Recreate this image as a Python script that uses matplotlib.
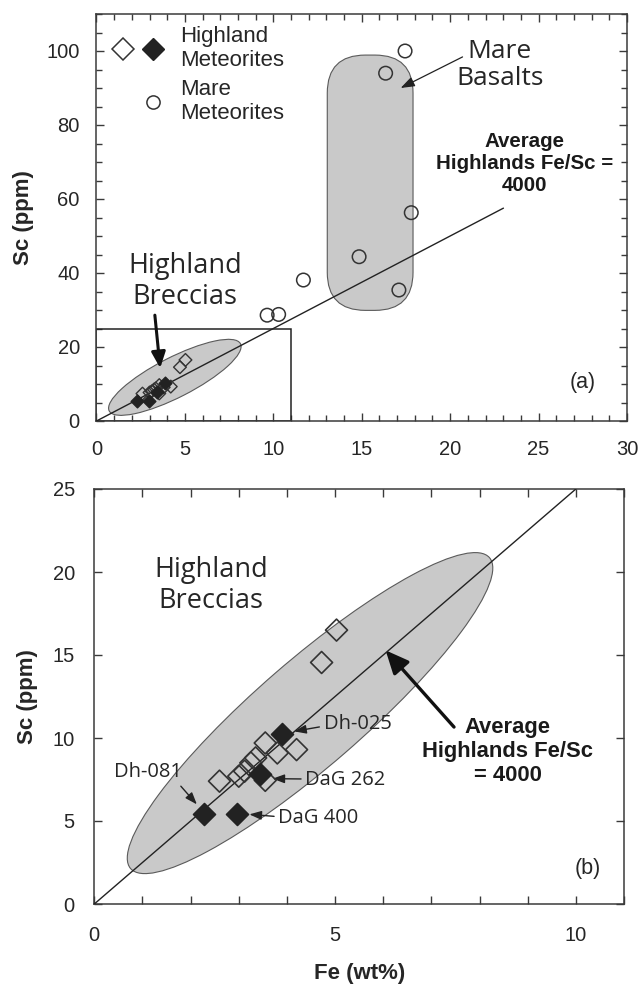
import matplotlib
matplotlib.use("Agg")
import matplotlib.pyplot as plt
import numpy as np
from matplotlib.patches import Ellipse, FancyBboxPatch, Rectangle
from matplotlib.lines import Line2D
from matplotlib.legend_handler import HandlerTuple
from matplotlib.transforms import Affine2D
from matplotlib.ticker import MultipleLocator

# ---------------- data ----------------
# Highland meteorites (open diamonds): Fe (wt%), Sc (ppm)
hl_open_fe = [2.60, 3.00, 3.12, 3.25, 3.35, 3.55, 3.55, 3.80, 4.20, 4.72, 5.03]
hl_open_sc = [7.40, 7.70, 8.00, 8.50, 8.80, 9.70, 7.45, 9.10, 9.30, 14.55, 16.50]
# Named highland meteorites (filled diamonds)
hl_named = ["Dh-081", "DaG 400", "DaG 262", "Dh-025"]
hl_named_fe = [2.28, 2.96, 3.44, 3.90]
hl_named_sc = [5.40, 5.45, 7.83, 10.25]
# Mare meteorites (open circles)
mare_fe = [17.45, 16.35, 17.80, 14.85, 17.10, 11.70, 9.65, 10.30]
mare_sc = [100.0, 94.0, 56.3, 44.4, 35.4, 38.1, 28.6, 28.8]
# Average highlands Fe/Sc ratio
fe_sc_ratio = 4000.0

# axis ranges / ticks
a_xlim, a_ylim = (0, 30), (0, 110)
b_xlim, b_ylim = (0, 11), (0, 25)

FIG_W, FIG_H = 6.39, 9.89
fig = plt.figure(figsize=(FIG_W, FIG_H), dpi=100)
fig.patch.set_facecolor("white")

TICK_FONT = "Liberation Sans"
ANN_FONT = "Open Sans"
TXT = "#262626"
SPINE = "#3a3a3a"
GRAY_FILL = "#c9c9c9"
GRAY_EDGE = "#5a5a5a"

axA = fig.add_axes([96.5 / 639, 1 - 421 / 989, 530.5 / 639, 407 / 989])
axB = fig.add_axes([94.3 / 639, 1 - 904 / 989, 529.7 / 639, 415 / 989])


def aspect_k(ax, xr, yr):
    pos = ax.get_position()
    return (pos.width * FIG_W / (xr[1] - xr[0])) / (pos.height * FIG_H / (yr[1] - yr[0]))


def line_y(x):
    return np.asarray(x) * 1e4 / fe_sc_ratio


def style_axes(ax, xmaj, xmin, ymaj, ymin, xpad, ypad):
    for s in ax.spines.values():
        s.set_color(SPINE)
        s.set_linewidth(1.1)
    ax.xaxis.set_major_locator(MultipleLocator(xmaj))
    ax.xaxis.set_minor_locator(MultipleLocator(xmin))
    ax.yaxis.set_major_locator(MultipleLocator(ymaj))
    ax.yaxis.set_minor_locator(MultipleLocator(ymin))
    ax.tick_params(which="both", direction="in", top=True, right=True,
                   color=SPINE, width=1.0)
    ax.tick_params(which="major", length=6)
    ax.tick_params(which="minor", length=4)
    ax.tick_params(axis="x", which="major", pad=xpad)
    ax.tick_params(axis="y", which="major", pad=ypad)
    for lab in ax.get_xticklabels() + ax.get_yticklabels():
        lab.set_fontfamily(TICK_FONT)
        lab.set_fontsize(14.5)
        lab.set_color(TXT)


# ================= Panel (a) =================
ax = axA
ax.set_xlim(*a_xlim)
ax.set_ylim(*a_ylim)
kA = aspect_k(ax, a_xlim, a_ylim)

# highland breccia field
ellA = Ellipse((4.43, 11.8 / kA), width=2 * 4.17, height=2 * 1.13, angle=27.1,
               facecolor=GRAY_FILL, edgecolor=GRAY_EDGE, linewidth=0.8,
               transform=Affine2D().scale(1, kA) + ax.transData, zorder=1)
ax.add_patch(ellA)
# mare basalt field
capsule = FancyBboxPatch((13.05, 29.9), 17.9 - 13.05, 98.9 - 29.9,
                         boxstyle="round,pad=0,rounding_size=2.15",
                         mutation_aspect=kA, facecolor=GRAY_FILL,
                         edgecolor=GRAY_EDGE, linewidth=0.8, zorder=1)
ax.add_patch(capsule)
# box showing panel (b) limits
ax.add_patch(Rectangle((b_xlim[0], b_ylim[0]), b_xlim[1] - b_xlim[0], b_ylim[1] - b_ylim[0],
                       fill=False, edgecolor="#222222", linewidth=1.1, zorder=2))
# Fe/Sc line
xl = np.array([0, 23.0])
ax.plot(xl, line_y(xl), color="#222222", linewidth=1.0, zorder=3)

ax.scatter(mare_fe, mare_sc, s=95, marker="o", facecolor="none",
           edgecolor="#333333", linewidth=1.1, zorder=4)
ax.scatter(hl_open_fe, hl_open_sc, s=42, marker="D", facecolor="none",
           edgecolor="#333333", linewidth=1.0, zorder=4)
ax.scatter(hl_named_fe, hl_named_sc, s=42, marker="D", facecolor="#222222",
           edgecolor="#222222", linewidth=1.0, zorder=5)

style_axes(ax, 5, 1, 20, 5, xpad=14, ypad=12)
ax.set_ylabel("Sc (ppm)", fontfamily=TICK_FONT, fontsize=16, fontweight="bold", color=TXT)
ax.yaxis.set_label_coords(-0.117, 0.5)

# legend
h_open = Line2D([], [], linestyle="none", marker="D", markersize=11.5,
                markerfacecolor="white", markeredgecolor="#333333", markeredgewidth=1.1)
h_fill = Line2D([], [], linestyle="none", marker="D", markersize=11.5,
                markerfacecolor="#222222", markeredgecolor="#222222")
h_none = Line2D([], [], linestyle="none")
h_circ = Line2D([], [], linestyle="none", marker="o", markersize=9.5,
                markerfacecolor="none", markeredgecolor="#333333", markeredgewidth=1.1)
leg = ax.legend([(h_open, h_fill), (h_none, h_circ)],
                ["Highland\nMeteorites", "Mare\nMeteorites"],
                handler_map={tuple: HandlerTuple(ndivide=None, pad=0)},
                loc="upper left", bbox_to_anchor=(0.005, 0.993), borderaxespad=0,
                frameon=False, handlelength=2.7, handletextpad=0.55,
                labelspacing=0.35, prop={"family": TICK_FONT, "size": 16})
for t in leg.get_texts():
    t.set_color(TXT)

ax.text(5.0, 37.6, "Highland\nBreccias", ha="center", va="center",
        fontfamily=ANN_FONT, fontsize=19.5, color=TXT, linespacing=1.15, zorder=6)
ax.annotate("", xy=(3.6, 14.3), xytext=(3.3, 28.6),
            arrowprops=dict(arrowstyle="-|>,head_length=0.8,head_width=0.35",
                            mutation_scale=12, color="#111111", linewidth=2.2,
                            shrinkA=0, shrinkB=0), zorder=6)
ax.text(22.8, 96.2, "Mare\nBasalts", ha="center", va="center",
        fontfamily=ANN_FONT, fontsize=19, color=TXT, linespacing=1.1)
ax.annotate("", xy=(17.2, 90.0), xytext=(20.7, 98.4),
            arrowprops=dict(arrowstyle="-|>,head_length=0.7,head_width=0.25",
                            mutation_scale=12, color="#222222", linewidth=0.9,
                            shrinkA=0, shrinkB=0), zorder=6)
ax.text(24.2, 69.6, "Average\nHighlands Fe/Sc =\n4000", ha="center", va="center",
        fontfamily=TICK_FONT, fontsize=14.8, fontweight="bold", color="#1a1a1a",
        linespacing=1.2)
ax.text(27.5, 10.3, "(a)", ha="center", va="center", fontfamily=TICK_FONT,
        fontsize=15.5, color=TXT)

# ================= Panel (b) =================
ax = axB
ax.set_xlim(*b_xlim)
ax.set_ylim(*b_ylim)
kB = aspect_k(ax, b_xlim, b_ylim)

ellB = Ellipse((4.48, 11.5 / kB), width=2 * 4.93, height=2 * 1.1, angle=40.9,
               facecolor=GRAY_FILL, edgecolor=GRAY_EDGE, linewidth=0.8,
               transform=Affine2D().scale(1, kB) + ax.transData, zorder=1)
ax.add_patch(ellB)
xl = np.array([0, 10.0])
ax.plot(xl, line_y(xl), color="#222222", linewidth=1.0, zorder=3)
ax.scatter(hl_open_fe, hl_open_sc, s=125, marker="D", facecolor="none",
           edgecolor="#333333", linewidth=1.2, zorder=4)
ax.scatter(hl_named_fe, hl_named_sc, s=125, marker="D", facecolor="#222222",
           edgecolor="#222222", linewidth=1.2, zorder=5)

style_axes(ax, 5, 1, 5, 5, xpad=16, ypad=14)
ax.tick_params(axis="x", which="minor", length=6)
ax.set_ylabel("Sc (ppm)", fontfamily=TICK_FONT, fontsize=16, fontweight="bold", color=TXT)
ax.yaxis.set_label_coords(-0.106, 0.5)
ax.set_xlabel("Fe (wt%)", fontfamily=TICK_FONT, fontsize=16, fontweight="bold", color=TXT)
ax.xaxis.set_label_coords(0.5, -0.142)

ax.text(2.43, 19.2, "Highland\nBreccias", ha="center", va="center",
        fontfamily=ANN_FONT, fontsize=19.5, color=TXT, linespacing=1.15)

lab_style = dict(fontfamily=ANN_FONT, fontsize=14.5, color=TXT)
arr = dict(arrowstyle="-|>,head_length=0.6,head_width=0.22", mutation_scale=12,
           color="#222222", linewidth=1.0, shrinkA=1, shrinkB=0)
ax.annotate(hl_named[0], xy=(2.13, 6.0), xytext=(1.12, 7.93), ha="center", va="center",
            arrowprops=dict(arr, relpos=(0.93, 0.0)), **lab_style)
ax.annotate(hl_named[1], xy=(3.22, 5.4), xytext=(3.82, 5.2), ha="left", va="center",
            arrowprops=dict(arr, relpos=(0.0, 0.55)), **lab_style)
ax.annotate(hl_named[2], xy=(3.70, 7.55), xytext=(4.38, 7.47), ha="left", va="center",
            arrowprops=dict(arr, relpos=(0.0, 0.55)), **lab_style)
ax.annotate(hl_named[3], xy=(4.15, 10.4), xytext=(4.76, 10.83), ha="left", va="center",
            arrowprops=dict(arr, relpos=(0.0, 0.4)), **lab_style)

ax.annotate("", xy=(6.05, 15.28), xytext=(7.47, 10.66),
            arrowprops=dict(arrowstyle="-|>,head_length=1.0,head_width=0.45",
                            mutation_scale=14, color="#111111", linewidth=2.4,
                            shrinkA=0, shrinkB=0), zorder=6)
ax.text(8.58, 9.17, "Average\nHighlands Fe/Sc\n= 4000", ha="center", va="center",
        fontfamily=TICK_FONT, fontsize=15.8, fontweight="bold", color="#1a1a1a",
        linespacing=1.2)
ax.text(10.24, 2.13, "(b)", ha="center", va="center", fontfamily=TICK_FONT,
        fontsize=15.5, color=TXT)

fig.savefig("out.png", dpi=100, facecolor="white")
